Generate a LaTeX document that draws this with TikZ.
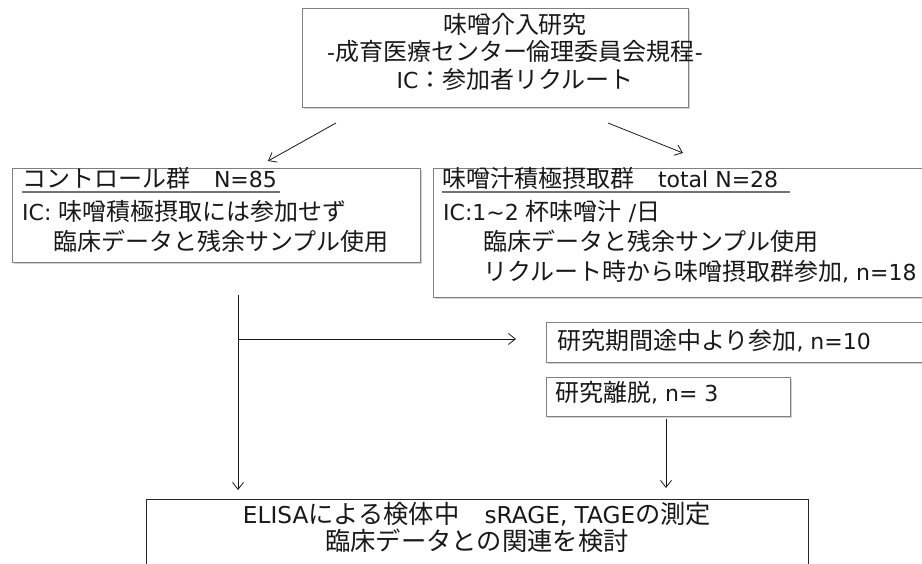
\documentclass[tikz,border=0pt]{standalone}
\usepackage{fontspec}
\setmainfont{DejaVu Sans}
\newfontfamily\jp{Noto Sans CJK JP}[Scale=1.09]
\usetikzlibrary{arrows.meta,shadows}
\newcommand\J[1]{{\jp #1}}
\begin{document}
\begin{tikzpicture}[x=1pt,y=-1pt,
  box/.style={draw=black!50, line width=0.9pt, fill=white, rectangle, inner sep=0pt,
     anchor=north west, drop shadow={shadow xshift=1.6pt, shadow yshift=-1.6pt, opacity=0.35}},
  plainbox/.style={draw=black!85, line width=0.8pt, fill=white, rectangle, inner sep=0pt, anchor=north west},
  txt/.style={inner sep=0pt, font=\fontsize{22}{26}\selectfont, text=black!90},
  bigtxt/.style={txt, font=\fontsize{23.2}{26}\selectfont},
  arr/.style={draw=black!90, line width=0.8pt, -{Straight Barb[length=7pt,width=11pt]}},
  uline/.style={draw=black!55, line width=1.1pt}]
\useasboundingbox (0,0) rectangle (922,564);
\clip (0,0) rectangle (922,564);
\fill[white] (0,0) rectangle (922,564);

% boxes
\node[box, minimum width=386pt, minimum height=99pt] (top) at (302,8) {};
\node[box, minimum width=408pt, minimum height=94pt] (ctrl) at (12,168) {};
\node[box, minimum width=520pt, minimum height=129pt] (miso) at (433,168) {};
\node[box, minimum width=420pt, minimum height=40pt] (mid) at (546,322) {};
\node[box, minimum width=244pt, minimum height=39pt] (drop) at (546,377) {};
\node[plainbox, minimum width=662pt, minimum height=120pt] (res) at (146,499) {};

% top text
\node[txt, anchor=base] (t1) at (515,34) {\J{味噌介入研究}};
\node[txt, anchor=base] (t2) at (515,61) {-\J{成育医療センター倫理委員会規程}-};
\node[txt, anchor=base] (t3) at (515,89) {IC\J{：参加者リクルート}};

% control text
\node[txt, anchor=base west] (c1) at (22,188) {\J{コントロール群　}N=85};
\node[txt, anchor=base west] (c2) at (22,221) {IC: \J{味噌積極摂取には参加せず}};
\node[txt, anchor=base west] (c3) at (53,251) {\J{臨床データと残余サンプル使用}};
\draw[uline] (22,192) -- (280,192);

% miso text
\node[txt, anchor=base west] (m1) at (442,188) {\J{味噌汁積極摂取群　}total N=28};
\node[txt, anchor=base west] (m2) at (443,221) {IC:1\textasciitilde 2 \J{杯味噌汁} /\J{日}};
\node[txt, anchor=base west] (m3) at (483,251) {\J{臨床データと残余サンプル使用}};
\node[txt, anchor=base west] (m4) at (483,281) {\J{リクルート時から味噌摂取群参加}, n=18};
\draw[uline] (442,192) -- (790,192);

% small boxes text
\node[txt, anchor=base west] (mt) at (557,349) {\J{研究期間途中より参加}, n=10};
\node[txt, anchor=base west] (dt) at (555,402) {\J{研究離脱}, n= 3};

% result text
\node[bigtxt, anchor=base] (r1) at (477,523) {ELISA\J{による検体中　}sRAGE, TAGE\J{の測定}};
\node[bigtxt, anchor=base] (r2) at (477,550) {\J{臨床データとの関連を検討}};

% connectors
\coordinate (a1s) at (336,123);
\coordinate (a1e) at (268,161);
\coordinate (a2s) at (608,123);
\coordinate (a2e) at (683,153);
\draw[arr] (a1s) -- (a1e);
\draw[arr] (a2s) -- (a2e);

\coordinate (vs) at (238,295);
\coordinate (ve) at (238,490);
\coordinate (hs) at (238,339);
\coordinate (he) at (516,339);
\draw[arr] (vs) -- (ve);
\draw[arr] (hs) -- (he);

\coordinate (ds) at (666,419);
\coordinate (de) at (666,488);
\draw[arr] (ds) -- (de);
\end{tikzpicture}
\end{document}
